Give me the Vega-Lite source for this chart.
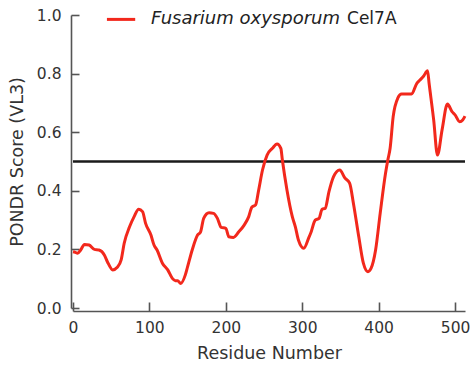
{
  "$schema": "https://vega.github.io/schema/vega-lite/v6.json",
  "autosize": "none",
  "width": 392,
  "height": 293,
  "padding": {"left": 73, "top": 15, "right": 8, "bottom": 63},
  "background": "white",
  "config": {
    "view": {"stroke": null},
    "font": "DejaVu Sans",
    "axis": {
      "grid": false,
      "domainColor": "#555555",
      "domainWidth": 1.6,
      "tickColor": "#555555",
      "tickWidth": 1.6,
      "labelColor": "#333333",
      "titleColor": "#333333",
      "labelFont": "DejaVu Sans",
      "titleFont": "DejaVu Sans",
      "labelFontSize": 15.5,
      "titleFontSize": 17.5,
      "titleFontWeight": "normal"
    }
  },
  "datasets": {
    "curve": [
      {"residue": 0, "score": 0.192}, {"residue": 3, "score": 0.19}, {"residue": 6, "score": 0.187},
      {"residue": 10, "score": 0.198}, {"residue": 15, "score": 0.217}, {"residue": 21, "score": 0.215},
      {"residue": 28, "score": 0.2}, {"residue": 34, "score": 0.198}, {"residue": 41, "score": 0.181},
      {"residue": 45, "score": 0.158}, {"residue": 52, "score": 0.13}, {"residue": 58, "score": 0.139},
      {"residue": 63, "score": 0.164}, {"residue": 67, "score": 0.221}, {"residue": 74, "score": 0.277},
      {"residue": 80, "score": 0.312}, {"residue": 86, "score": 0.337}, {"residue": 91, "score": 0.329},
      {"residue": 95, "score": 0.289}, {"residue": 102, "score": 0.249}, {"residue": 106, "score": 0.215},
      {"residue": 110, "score": 0.198}, {"residue": 117, "score": 0.153}, {"residue": 124, "score": 0.13},
      {"residue": 130, "score": 0.101}, {"residue": 134, "score": 0.093}, {"residue": 137, "score": 0.093},
      {"residue": 141, "score": 0.084}, {"residue": 147, "score": 0.113}, {"residue": 150, "score": 0.141},
      {"residue": 156, "score": 0.198}, {"residue": 163, "score": 0.249}, {"residue": 167, "score": 0.26},
      {"residue": 171, "score": 0.306}, {"residue": 178, "score": 0.325}, {"residue": 184, "score": 0.323},
      {"residue": 189, "score": 0.306}, {"residue": 194, "score": 0.275}, {"residue": 200, "score": 0.272},
      {"residue": 204, "score": 0.243}, {"residue": 210, "score": 0.241}, {"residue": 217, "score": 0.26},
      {"residue": 224, "score": 0.283}, {"residue": 230, "score": 0.312}, {"residue": 234, "score": 0.344},
      {"residue": 239, "score": 0.352}, {"residue": 243, "score": 0.403}, {"residue": 248, "score": 0.471},
      {"residue": 254, "score": 0.522}, {"residue": 261, "score": 0.545}, {"residue": 267, "score": 0.56},
      {"residue": 272, "score": 0.545}, {"residue": 274, "score": 0.505}, {"residue": 280, "score": 0.403},
      {"residue": 287, "score": 0.312}, {"residue": 291, "score": 0.277}, {"residue": 295, "score": 0.232},
      {"residue": 302, "score": 0.204}, {"residue": 309, "score": 0.243}, {"residue": 311, "score": 0.255},
      {"residue": 317, "score": 0.3}, {"residue": 322, "score": 0.306}, {"residue": 326, "score": 0.337},
      {"residue": 330, "score": 0.34}, {"residue": 335, "score": 0.397}, {"residue": 341, "score": 0.448},
      {"residue": 349, "score": 0.471}, {"residue": 356, "score": 0.443}, {"residue": 362, "score": 0.426},
      {"residue": 367, "score": 0.357}, {"residue": 374, "score": 0.243}, {"residue": 380, "score": 0.153},
      {"residue": 386, "score": 0.124}, {"residue": 390, "score": 0.135}, {"residue": 396, "score": 0.198},
      {"residue": 402, "score": 0.323}, {"residue": 409, "score": 0.46}, {"residue": 412, "score": 0.505},
      {"residue": 415, "score": 0.545}, {"residue": 419, "score": 0.653}, {"residue": 425, "score": 0.716},
      {"residue": 430, "score": 0.73}, {"residue": 443, "score": 0.73}, {"residue": 450, "score": 0.767},
      {"residue": 454, "score": 0.778}, {"residue": 459, "score": 0.792}, {"residue": 464, "score": 0.81},
      {"residue": 466, "score": 0.767}, {"residue": 472, "score": 0.642}, {"residue": 477, "score": 0.522},
      {"residue": 483, "score": 0.608}, {"residue": 490, "score": 0.696}, {"residue": 496, "score": 0.67},
      {"residue": 500, "score": 0.659}, {"residue": 506, "score": 0.636}, {"residue": 510, "score": 0.642},
      {"residue": 513, "score": 0.655}
    ],
    "threshold": [{"x1": 0, "x2": 513, "score": 0.5}],
    "legendLine": [{"x1": 44.4, "x2": 81.4, "score": 0.985}],
    "legendItalic": [{"x": 349.4, "score": 0.985, "label": "Fusarium oxysporum"}],
    "legendPlain": [{"x": 358.6, "score": 0.985, "label": "Cel7A"}]
  },
  "layer": [
    {
      "data": {"name": "threshold"},
      "mark": {"type": "rule", "color": "#1a1a1a", "strokeWidth": 2.6},
      "encoding": {
        "x": {"field": "x1", "type": "quantitative", "scale": {"domain": [0, 513], "nice": false}},
        "x2": {"field": "x2"},
        "y": {"field": "score", "type": "quantitative", "scale": {"domain": [0, 1], "nice": false}}
      }
    },
    {
      "data": {"name": "curve"},
      "mark": {"type": "line", "color": "#f2281c", "strokeWidth": 3, "interpolate": "monotone", "strokeJoin": "round"},
      "encoding": {
        "x": {
          "field": "residue", "type": "quantitative",
          "scale": {"domain": [0, 513], "nice": false},
          "axis": {"title": "Residue Number", "values": [0, 100, 200, 300, 400, 500], "tickSize": -9, "offset": 3, "labelPadding": 18, "titlePadding": 9, "labelFlush": false}
        },
        "y": {
          "field": "score", "type": "quantitative",
          "scale": {"domain": [0, 1], "nice": false},
          "axis": {"title": "PONDR Score (VL3)", "values": [0, 0.2, 0.4, 0.6, 0.8, 1.0], "format": ".1f", "tickSize": -8, "offset": 2, "labelPadding": 18, "titlePadding": 10, "labelFlush": false}
        }
      }
    },
    {
      "data": {"name": "legendLine"},
      "mark": {"type": "rule", "color": "#f2281c", "strokeWidth": 3},
      "encoding": {
        "x": {"field": "x1", "type": "quantitative"},
        "x2": {"field": "x2"},
        "y": {"field": "score", "type": "quantitative"}
      }
    },
    {
      "data": {"name": "legendItalic"},
      "mark": {"type": "text", "align": "right", "baseline": "middle", "fontStyle": "italic", "fontSize": 18, "font": "DejaVu Sans", "color": "#222222"},
      "encoding": {
        "x": {"field": "x", "type": "quantitative"},
        "y": {"field": "score", "type": "quantitative"},
        "text": {"field": "label"}
      }
    },
    {
      "data": {"name": "legendPlain"},
      "mark": {"type": "text", "align": "left", "baseline": "middle", "fontSize": 17, "font": "DejaVu Sans", "color": "#222222"},
      "encoding": {
        "x": {"field": "x", "type": "quantitative"},
        "y": {"field": "score", "type": "quantitative"},
        "text": {"field": "label"}
      }
    }
  ]
}
